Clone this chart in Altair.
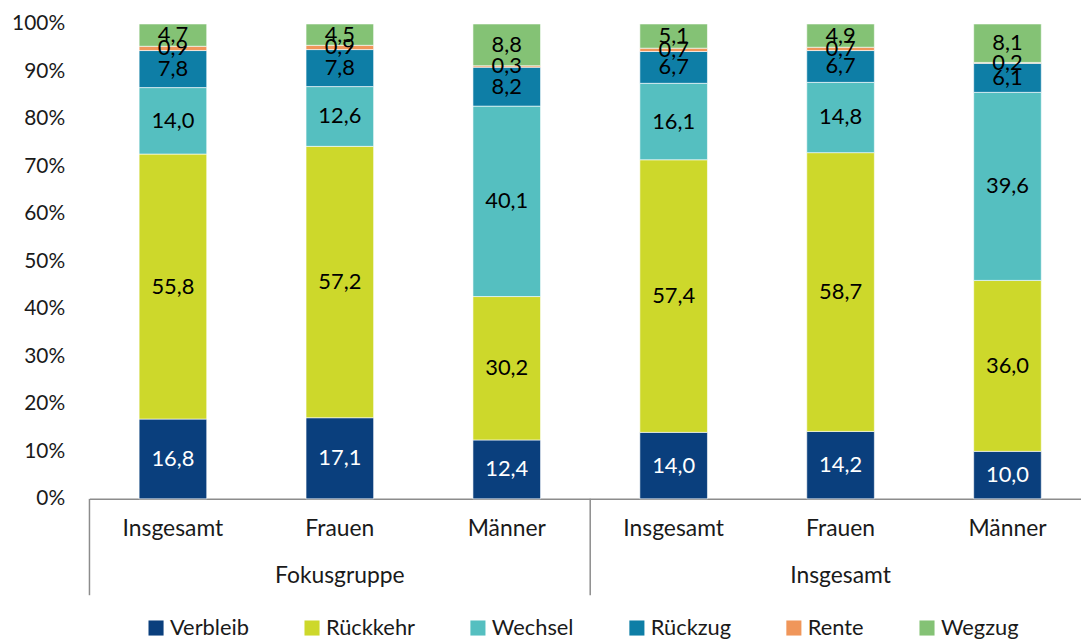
import altair as alt
import pandas as pd

groups = ["Fokusgruppe", "Fokusgruppe", "Fokusgruppe", "Insgesamt", "Insgesamt", "Insgesamt"]
subgroups = ["Insgesamt", "Frauen", "Männer", "Insgesamt", "Frauen", "Männer"]
categories = ["Verbleib", "Rückkehr", "Wechsel", "Rückzug", "Rente", "Wegzug"]
colors = ["#0a3f7d", "#cdd82b", "#55bfc0", "#0e7ea6", "#f0965a", "#84c275"]
label_colors = ["white", "black", "black", "black", "black", "black"]

verbleib = [16.8, 17.1, 12.4, 14.0, 14.2, 10.0]
rueckkehr = [55.8, 57.2, 30.2, 57.4, 58.7, 36.0]
wechsel = [14.0, 12.6, 40.1, 16.1, 14.8, 39.6]
rueckzug = [7.8, 7.8, 8.2, 6.7, 6.7, 6.1]
rente = [0.9, 0.9, 0.3, 0.7, 0.7, 0.2]
wegzug = [4.7, 4.5, 8.8, 5.1, 4.9, 8.1]

series = [verbleib, rueckkehr, wechsel, rueckzug, rente, wegzug]
keys = [f"{s}|{g}" for s, g in zip(subgroups, groups)]

rows = []
for ci, (cat, vals) in enumerate(zip(categories, series)):
    for k, v in zip(keys, vals):
        rows.append({"key": k, "cat": cat, "idx": ci, "value": v,
                     "label": f"{v:.1f}".replace(".", ","),
                     "lcol": label_colors[ci]})
df = pd.DataFrame(rows)

FONT = "Lato"
W, H = 998, 478
XR = 1008
step = XR / 6

xscale = alt.Scale(domain=keys, range=[0, XR], paddingInner=0.595, paddingOuter=0.2975)
yscale = alt.Scale(domain=[0, 1])

base = alt.Chart(df).transform_stack(
    stack="value", groupby=["key"], as_=["v0", "v1"], offset="normalize",
    sort=[alt.SortField("idx", order="ascending")]
).transform_calculate(mid="(datum.v0 + datum.v1) / 2")

bars = base.mark_bar(stroke="white", strokeWidth=0.6).encode(
    x=alt.X("key:N", scale=xscale, sort=keys,
            axis=alt.Axis(title=None, labelExpr="split(datum.value, '|')[0]",
                          labelAngle=0, ticks=False, domain=True, domainColor="#8c8c8c",
                          domainWidth=1.5, labelPadding=19, labelFontSize=23,
                          labelFont=FONT, labelColor="#1a1a1a")),
    y=alt.Y("v0:Q", scale=yscale,
            axis=alt.Axis(title=None, format=".0%", values=[i / 10 for i in range(11)],
                          domain=False, ticks=False, grid=False, labelPadding=25,
                          labelFontSize=21, labelFont=FONT, labelColor="#1a1a1a")),
    y2="v1:Q",
    color=alt.Color("cat:N", scale=alt.Scale(domain=categories, range=colors),
                    legend=alt.Legend(title=None, orient="none", direction="horizontal",
                                      legendX=56, legendY=597, symbolType="square",
                                      symbolSize=230, symbolStrokeWidth=0,
                                      labelFontSize=22, labelFont=FONT, labelColor="#1a1a1a",
                                      labelOffset=3, columnPadding=52, gridAlign="none")),
    order=alt.Order("idx:Q", sort="ascending"),
)

texts = base.mark_text(fontSize=22, font=FONT, baseline="middle").encode(
    x=alt.X("key:N", scale=xscale, sort=keys),
    y=alt.Y("mid:Q", scale=yscale),
    text="label:N",
    color=alt.Color("lcol:N", scale=None, legend=None),
)

grp_df = pd.DataFrame({"key": [keys[1], keys[4]], "name": ["Fokusgruppe", "Insgesamt"]})
grp_text = alt.Chart(grp_df).mark_text(fontSize=23, font=FONT, color="#1a1a1a",
                                       baseline="middle").encode(
    x=alt.X("key:N", scale=xscale, sort=keys),
    y=alt.value(H + 78),
    text="name:N",
)

sep_df = pd.DataFrame({"pos": [0, 3, 6]})
seps = alt.Chart(sep_df).mark_rule(color="#8c8c8c", strokeWidth=1.5).encode(
    x=alt.X("px:Q", scale=None),
    y=alt.value(H),
    y2=alt.value(H + 97),
).transform_calculate(px=f"datum.pos * {step}")

chart = alt.layer(bars, texts, grp_text, seps).resolve_scale(color="independent").properties(
    width=W, height=H,
    autosize=alt.AutoSizeParams(type="none"),
    padding={"left": 82, "top": 14, "right": 0, "bottom": 139},
).configure_view(stroke=None).configure_axis(grid=False)

chart.save("out.html", embed_options={"renderer": "svg", "actions": False})
